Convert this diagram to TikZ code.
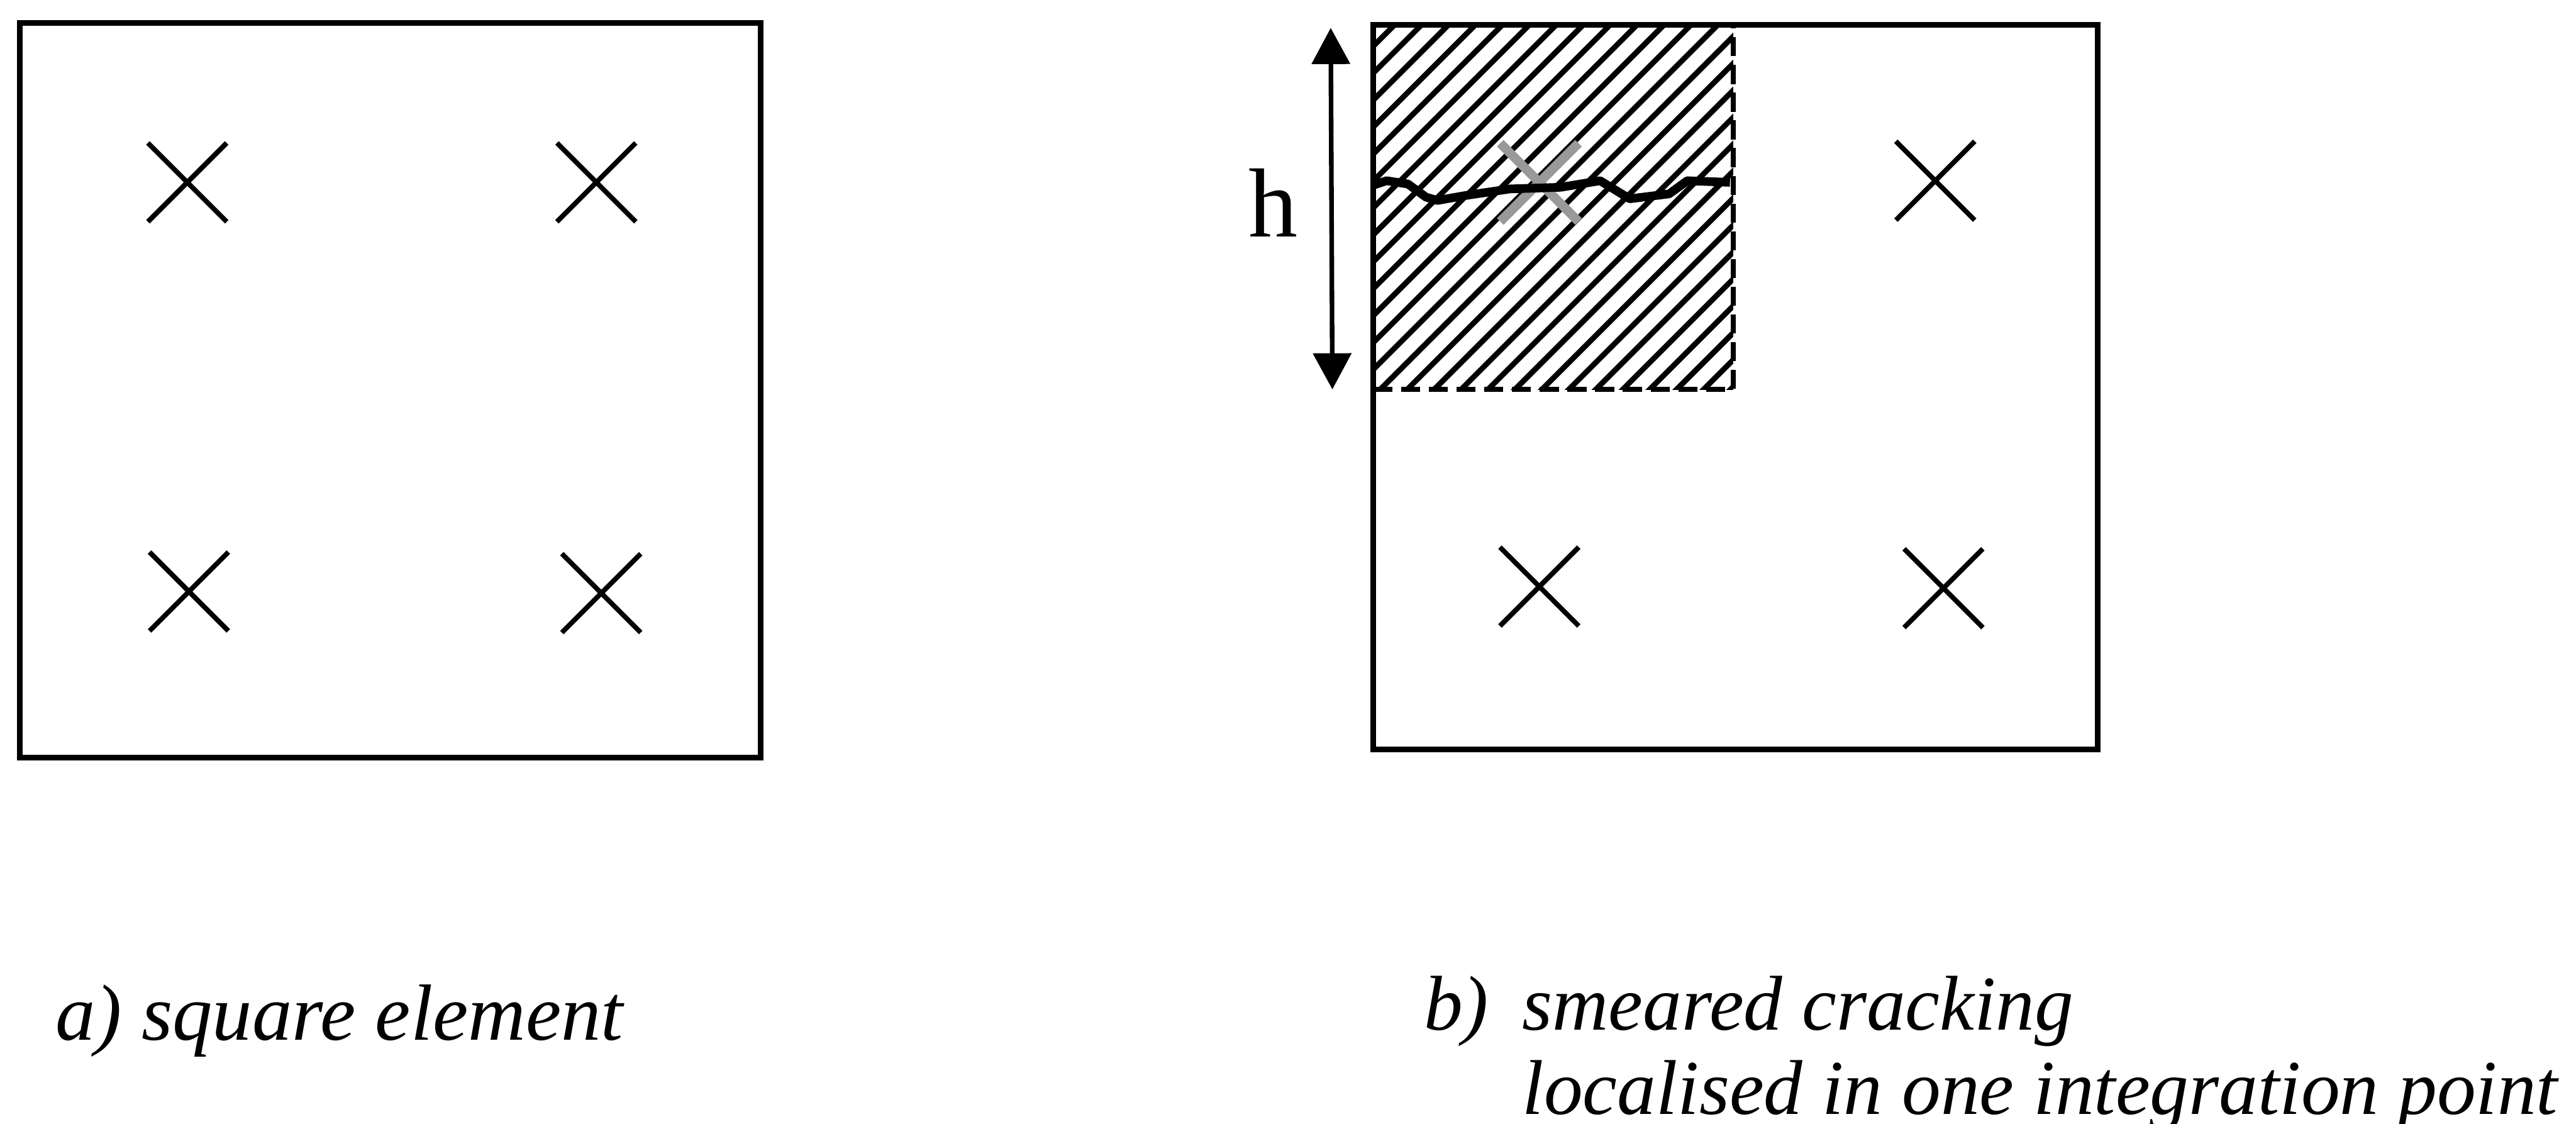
\documentclass[tikz,border=0pt]{standalone}
\usepackage{fontspec}
\setmainfont{Liberation Serif}
\usetikzlibrary{arrows.meta,shapes.misc}
\begin{document}
\begin{tikzpicture}[
  x=0.1mm,y=-0.1mm,
  elem/.style={line width=0.95pt},
  ipt/.style={cross out,draw,line width=0.85pt,inner sep=0pt,minimum size=4.5mm},
  smear/.style={cross out,draw=black!40,line width=1.6pt,inner sep=0pt,minimum size=4.2mm},
  hatch/.style={line width=0.95pt},
  arr/.style={{Triangle[length=2.2mm,width=2.3mm]}-{Triangle[length=2.2mm,width=2.3mm]},line width=0.8pt},
  captxt/.style={font=\fontsize{13.45}{13.45}\selectfont\itshape,anchor=base west,inner sep=0pt},
  ]
  \useasboundingbox (0,0) rectangle (1568,684);
  % left element
  \draw[elem] (12,14) rectangle (463,461);
  \node[ipt] (a1) at (114,111) {};
  \node[ipt] (a2) at (363,111) {};
  \node[ipt] (a3) at (115,360) {};
  \node[ipt] (a4) at (366,361) {};
  % hatched zone
  \begin{scope}
    \clip (836,17) rectangle (1055,237);
    \foreach \i in {0,...,26}
      \draw[hatch] (\i*16.4+864,0) -- ++(-300,300);
  \end{scope}
  \draw[elem,dash pattern=on 3.3pt off 1.5pt] (836,237) -- (1055,237) -- (1055,17);
  % right element
  \draw[elem] (836,15) rectangle (1277,456);
  \node[smear] (b1) at (937,111) {};
  \node[ipt] (b2) at (1178,110) {};
  \node[ipt] (b3) at (937,357) {};
  \node[ipt] (b4) at (1183,358) {};
  % crack
  \draw[line width=1.5pt,line join=round] (835,113) -- (844,110) -- (857,112) -- (868,120)
    -- (875,122) -- (892,119) -- (919,115) -- (950,114) -- (974,110) -- (992,121)
    -- (1016,118) -- (1027,110) -- (1053,111);
  % height
  \coordinate (htop) at (810,17);
  \coordinate (hbot) at (811,237);
  \draw[arr] (htop) -- (hbot);
  \node[font=\fontsize{17}{17}\selectfont,anchor=base,inner sep=0pt] (hlab) at (775,144) {h};
  % captions
  \node[captxt,font=\fontsize{13.8}{13.8}\selectfont\itshape] (capa) at (33,633) {a) square element};
  \node[captxt] (capb) at (866,627) {b)};
  \node[captxt] (capc) at (926,627) {smeared cracking};
  \node[captxt] (capd) at (926,678) {localised in one integration point};
\end{tikzpicture}
\end{document}
